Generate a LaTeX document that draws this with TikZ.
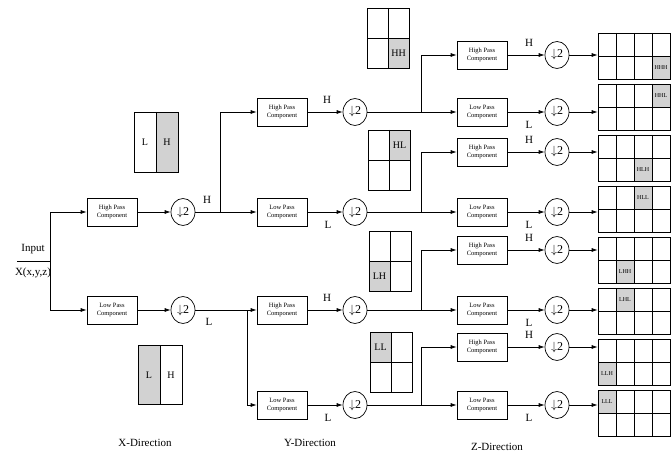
\documentclass[tikz,border=0pt]{standalone}
\usepackage{fontspec}
\setmainfont{Liberation Serif}
\usetikzlibrary{arrows.meta,shapes.geometric}

\tikzset{
  filt/.style={draw, minimum width=50pt, minimum height=28pt, inner sep=1pt,
    align=center, font=\fontsize{6.5}{7.5}\selectfont},
  dwn/.style={draw, ellipse, minimum width=24pt, minimum height=27pt,
    inner sep=0pt, font=\fontsize{12}{12}\selectfont},
  arr/.style={-{Latex[length=6pt,width=4pt]}},
  lbl/.style={font=\fontsize{11}{12}\selectfont},
  band/.style={font=\fontsize{10}{10}\selectfont},
  sband/.style={font=\fontsize{6}{6}\selectfont, inner sep=0pt},
  shade/.style={fill=gray!35}
}
\newcommand{\dsamp}{$\downarrow$2}

\begin{document}
\begin{tikzpicture}[x=1pt, y=-1pt, line width=0.7pt]
    \useasboundingbox (0,0) rectangle (671,454);

    % Input
    \node[lbl] (inp) at (33,249) {Input};
    \node[lbl] (inx) at (33,273) {X(x,y,z)};
    \coordinate (in0) at (17,261);
    \coordinate (jin) at (50,261);

    % X-Direction filters
    \node[filt] (hx) at (112,212) {High Pass\\Component};
    \node[filt] (lx) at (112,310) {Low Pass\\Component};
    \node[dwn] (dhx) at (183,212) {\dsamp};
    \node[dwn] (dlx) at (183,310) {\dsamp};

    % Y-Direction filters
    \node[filt] (hy1) at (282,112) {High Pass\\Component};
    \node[filt] (ly1) at (282,212) {Low Pass\\Component};
    \node[filt] (hy2) at (282,310) {High Pass\\Component};
    \node[filt] (ly2) at (282,405) {Low Pass\\Component};
    \node[dwn] (dhy1) at (355,112) {\dsamp};
    \node[dwn] (dly1) at (355,212) {\dsamp};
    \node[dwn] (dhy2) at (355,310) {\dsamp};
    \node[dwn] (dly2) at (355,405) {\dsamp};

    % Z-Direction filters
    \foreach \n/\y/\t/\s/\dy in {1/55/High/H/-12, 2/112/Low/L/13,
        3/152/High/H/-12, 4/212/Low/L/13, 5/250/High/H/-12,
        6/310/Low/L/13, 7/347/High/H/-12, 8/405/Low/L/13} {
      \node[filt] (z\n) at (482,\y) {\t\ Pass\\Component};
      \node[dwn] (dz\n) at (557,\y) {\dsamp};
      \node[lbl] (sz\n) at (529,\y+\dy) {\s};
      \draw[arr] (z\n) -- (dz\n);
    }

    % Output blocks
    \foreach \n/\lab/\c/\r in {1/HHH/4/2, 2/HHL/4/1, 3/HLH/3/2, 4/HLL/3/1,
        5/LHH/2/2, 6/LHL/2/1, 7/LLH/1/2, 8/LLL/1/1} {
      \pgfmathsetmacro\gt{33+51*(\n-1)}
      \fill[shade] (598+18*\c-18, \gt+23*\r-23) rectangle ++(18,23);
      \node[draw, minimum width=72pt, minimum height=46pt, inner sep=0pt]
        (g\n) at (634,\gt+23) {};
      \foreach \k in {1,2,3} \draw (598+18*\k, \gt) -- ++(0,46);
      \draw (598,\gt+23) -- ++(72,0);
      \node[sband] (gl\n) at (589+18*\c, \gt+23*\r-11.5) {\lab};
      \draw[arr] (dz\n) -- (dz\n -| g\n.west);
    }

    % X subbands
    \fill[shade] (156,112) rectangle (178,172);
    \draw (134,112) rectangle (178,172) (156,112) -- (156,172);
    \node[band] (xl1) at (145,142) {L};
    \node[band] (xh1) at (167,142) {H};
    \fill[shade] (138,345) rectangle (160,404);
    \draw (138,345) rectangle (182,404) (160,345) -- (160,404);
    \node[band] (xl2) at (149,375) {L};
    \node[band] (xh2) at (171,375) {H};

    % Y subbands
    \foreach \n/\x/\y/\lab/\c/\r in {1/367/8/HH/2/2, 2/368/130/HL/2/1,
        3/369/231/LH/1/2, 4/370/332/LL/1/1} {
      \fill[shade] (\x+21*\c-21, \y+30*\r-30) rectangle ++(21,30);
      \draw (\x,\y) rectangle ++(42,60);
      \draw (\x+21,\y) -- ++(0,60) (\x,\y+30) -- ++(42,0);
      \node[band] (yb\n) at (\x+21*\c-10.5, \y+30*\r-15) {\lab};
    }

    % Connectors
    \draw (in0) -- (jin);
    \draw[arr] (jin) |- (hx);
    \draw[arr] (jin) |- (lx);
    \draw[arr] (hx) -- (dhx);
    \draw[arr] (lx) -- (dlx);
    \coordinate (jx1) at (220,212);
    \coordinate (jx2) at (247,310);
    \draw[arr] (dhx) -- (ly1);
    \draw[arr] (jx1) |- (hy1);
    \draw[arr] (dlx) -- (hy2);
    \draw[arr] (jx2) |- (ly2);
    \draw[arr] (hy1) -- (dhy1);
    \draw[arr] (ly1) -- (dly1);
    \draw[arr] (hy2) -- (dhy2);
    \draw[arr] (ly2) -- (dly2);
    \coordinate (jy1) at (421,112);
    \coordinate (jy2) at (421,212);
    \coordinate (jy3) at (421,310);
    \coordinate (jy4) at (421,405);
    \draw[arr] (dhy1) -- (z2);
    \draw[arr] (jy1) |- (z1);
    \draw[arr] (dly1) -- (z4);
    \draw[arr] (jy2) |- (z3);
    \draw[arr] (dhy2) -- (z6);
    \draw[arr] (jy3) |- (z5);
    \draw[arr] (dly2) -- (z8);
    \draw[arr] (jy4) |- (z7);

    % Labels
    \node[lbl] (lhx) at (207,200) {H};
    \node[lbl] (llx) at (209,322) {L};
    \node[lbl] (lhy1) at (327,100) {H};
    \node[lbl] (lly1) at (328,225) {L};
    \node[lbl] (lhy2) at (327,298) {H};
    \node[lbl] (lly2) at (328,418) {L};
    \node[lbl] (xdir) at (145,443) {X-Direction};
    \node[lbl] (ydir) at (310,443) {Y-Direction};
    \node[lbl] (zdir) at (497,447) {Z-Direction};
\end{tikzpicture}
\end{document}
